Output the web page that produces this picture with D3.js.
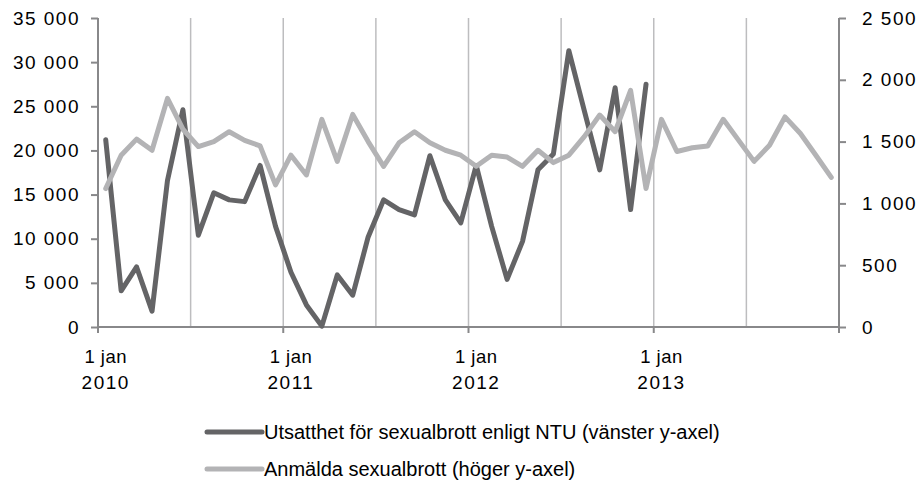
<!DOCTYPE html>
<html>
<head>
<meta charset="utf-8">
<script src="https://cdn.jsdelivr.net/npm/d3@7"></script>
<style>
  html, body { margin: 0; padding: 0; background: #fff; }
  svg text { font-family: "Liberation Sans", Arial, Helvetica, sans-serif; fill: #000; }
</style>
</head>
<body>
<svg id="chart" width="924" height="487"></svg>
<script>
// ---- data ----
const months = [];
for (let y = 2010; y <= 2013; y++) for (let m = 1; m <= 12; m++) months.push(y + "-" + String(m).padStart(2, "0"));

const ntuValues = [21200, 4100, 6800, 1800, 16600, 24600, 10400, 15200, 14400, 14200, 18300, 11400,
                   6200, 2500, 100, 5900, 3600, 10200, 14400, 13300, 12700, 19400, 14400, 11800,
                   18300, 11400, 5400, 9700, 17800, 19600, 31300, 24500, 17800, 27100, 13300, 27500];

const reportedValues = [1120, 1390, 1520, 1430, 1850, 1600, 1460, 1500, 1580, 1510, 1465, 1150,
                        1390, 1230, 1680, 1340, 1720, 1500, 1300, 1490, 1580, 1490, 1430, 1390,
                        1300, 1390, 1375, 1300, 1430, 1330, 1390, 1540, 1715, 1580, 1915, 1120,
                        1680, 1420, 1450, 1465, 1680, 1510, 1340, 1470, 1700, 1565, 1390, 1210];

const leftTicks = [0, 5000, 10000, 15000, 20000, 25000, 30000, 35000];
const rightTicks = [0, 500, 1000, 1500, 2000, 2500];
const xLabelMonths = ["2010-01", "2011-01", "2012-01", "2013-01"];
const xLabels = [["1 jan", "2010"], ["1 jan", "2011"], ["1 jan", "2012"], ["1 jan", "2013"]];
const seriesNames = ["Utsatthet för sexualbrott enligt NTU (vänster y-axel)", "Anmälda sexualbrott (höger y-axel)"];

// ---- layout ----
const L = 98, R = 839, T = 18, B = 327;
const darkColor = "#646466", lightColor = "#b3b3b5", axisColor = "#88888a", gridColor = "#bdbdbf";

const svg = d3.select("#chart");
const x = d3.scaleBand().domain(months).range([L, R]).paddingInner(0).paddingOuter(0);
const yL = d3.scaleLinear().domain([0, 35000]).range([B, T]);
const yR = d3.scaleLinear().domain([0, 2500]).range([B, T]);
const cx = m => x(m) + x.bandwidth() / 2;
const fmt = v => d3.format(",")(v).replace(/,/g, " ");

// vertical gridlines every 6 months
const gridMonths = months.filter((m, i) => i > 0 && i % 6 === 0);
svg.append("g").selectAll("line").data(gridMonths).join("line")
  .attr("x1", d => x(d)).attr("x2", d => x(d))
  .attr("y1", T).attr("y2", B)
  .attr("stroke", gridColor).attr("stroke-width", 1.5);

// left axis
const gL = svg.append("g").attr("transform", `translate(${L},0)`)
  .call(d3.axisLeft(yL).tickValues(leftTicks).tickFormat(fmt).tickSize(7).tickPadding(11));
// right axis
const gR = svg.append("g").attr("transform", `translate(${R},0)`)
  .call(d3.axisRight(yR).tickValues(rightTicks).tickFormat(fmt).tickSize(7).tickPadding(16));
[gL, gR].forEach(g => {
  g.select(".domain").attr("stroke", axisColor).attr("stroke-width", 2);
  g.selectAll(".tick line").attr("stroke", axisColor).attr("stroke-width", 2);
  g.selectAll(".tick text").attr("font-size", 19).attr("fill", "#000")
    .style("font-family", '"Liberation Sans", Arial, sans-serif').style("letter-spacing", "1.5px");
});
gL.select(".domain").attr("d", `M0,${T}H0V${B}`);
gR.select(".domain").attr("d", `M0,${T}H0V${B}`);

// x axis line
svg.append("line").attr("x1", L).attr("x2", R).attr("y1", B).attr("y2", B)
  .attr("stroke", axisColor).attr("stroke-width", 2);
// x tick marks every 12 months + end
const xTickPos = months.filter((m, i) => i % 12 === 0).map(m => x(m)).concat([R]);
svg.append("g").selectAll("line").data(xTickPos).join("line")
  .attr("x1", d => d).attr("x2", d => d).attr("y1", B).attr("y2", B + 6)
  .attr("stroke", axisColor).attr("stroke-width", 2);
// x labels
const xl = svg.append("g").selectAll("text").data(xLabelMonths).join("text")
  .attr("x", d => cx(d)).attr("text-anchor", "middle");
xl.append("tspan").attr("x", d => cx(d)).attr("y", 363).attr("font-size", 18.5)
  .style("letter-spacing", "0.5px").text((d, i) => xLabels[i][0]);
xl.append("tspan").attr("x", d => cx(d)).attr("y", 389).attr("font-size", 19)
  .style("letter-spacing", "1.5px").text((d, i) => xLabels[i][1]);

// lines
const lineL = d3.line().x((d, i) => cx(months[i])).y(d => yL(d));
const lineR = d3.line().x((d, i) => cx(months[i])).y(d => yR(d));
svg.append("path").attr("d", lineL(ntuValues)).attr("fill", "none")
  .attr("stroke", darkColor).attr("stroke-width", 5).attr("stroke-linejoin", "round").attr("stroke-linecap", "round");
svg.append("path").attr("d", lineR(reportedValues)).attr("fill", "none")
  .attr("stroke", lightColor).attr("stroke-width", 5).attr("stroke-linejoin", "round").attr("stroke-linecap", "round");

// legend
const legY = [432, 469];
const legColors = [darkColor, lightColor];
const leg = svg.append("g").selectAll("g").data(seriesNames).join("g")
  .attr("transform", (d, i) => `translate(0,${legY[i]})`);
leg.append("line").attr("x1", 207).attr("x2", 262).attr("y1", 0).attr("y2", 0)
  .attr("stroke", (d, i) => legColors[i]).attr("stroke-width", 5).attr("stroke-linecap", "round");
leg.append("text").attr("x", 264).attr("y", 7).attr("font-size", 20).text(d => d);
</script>
</body>
</html>
